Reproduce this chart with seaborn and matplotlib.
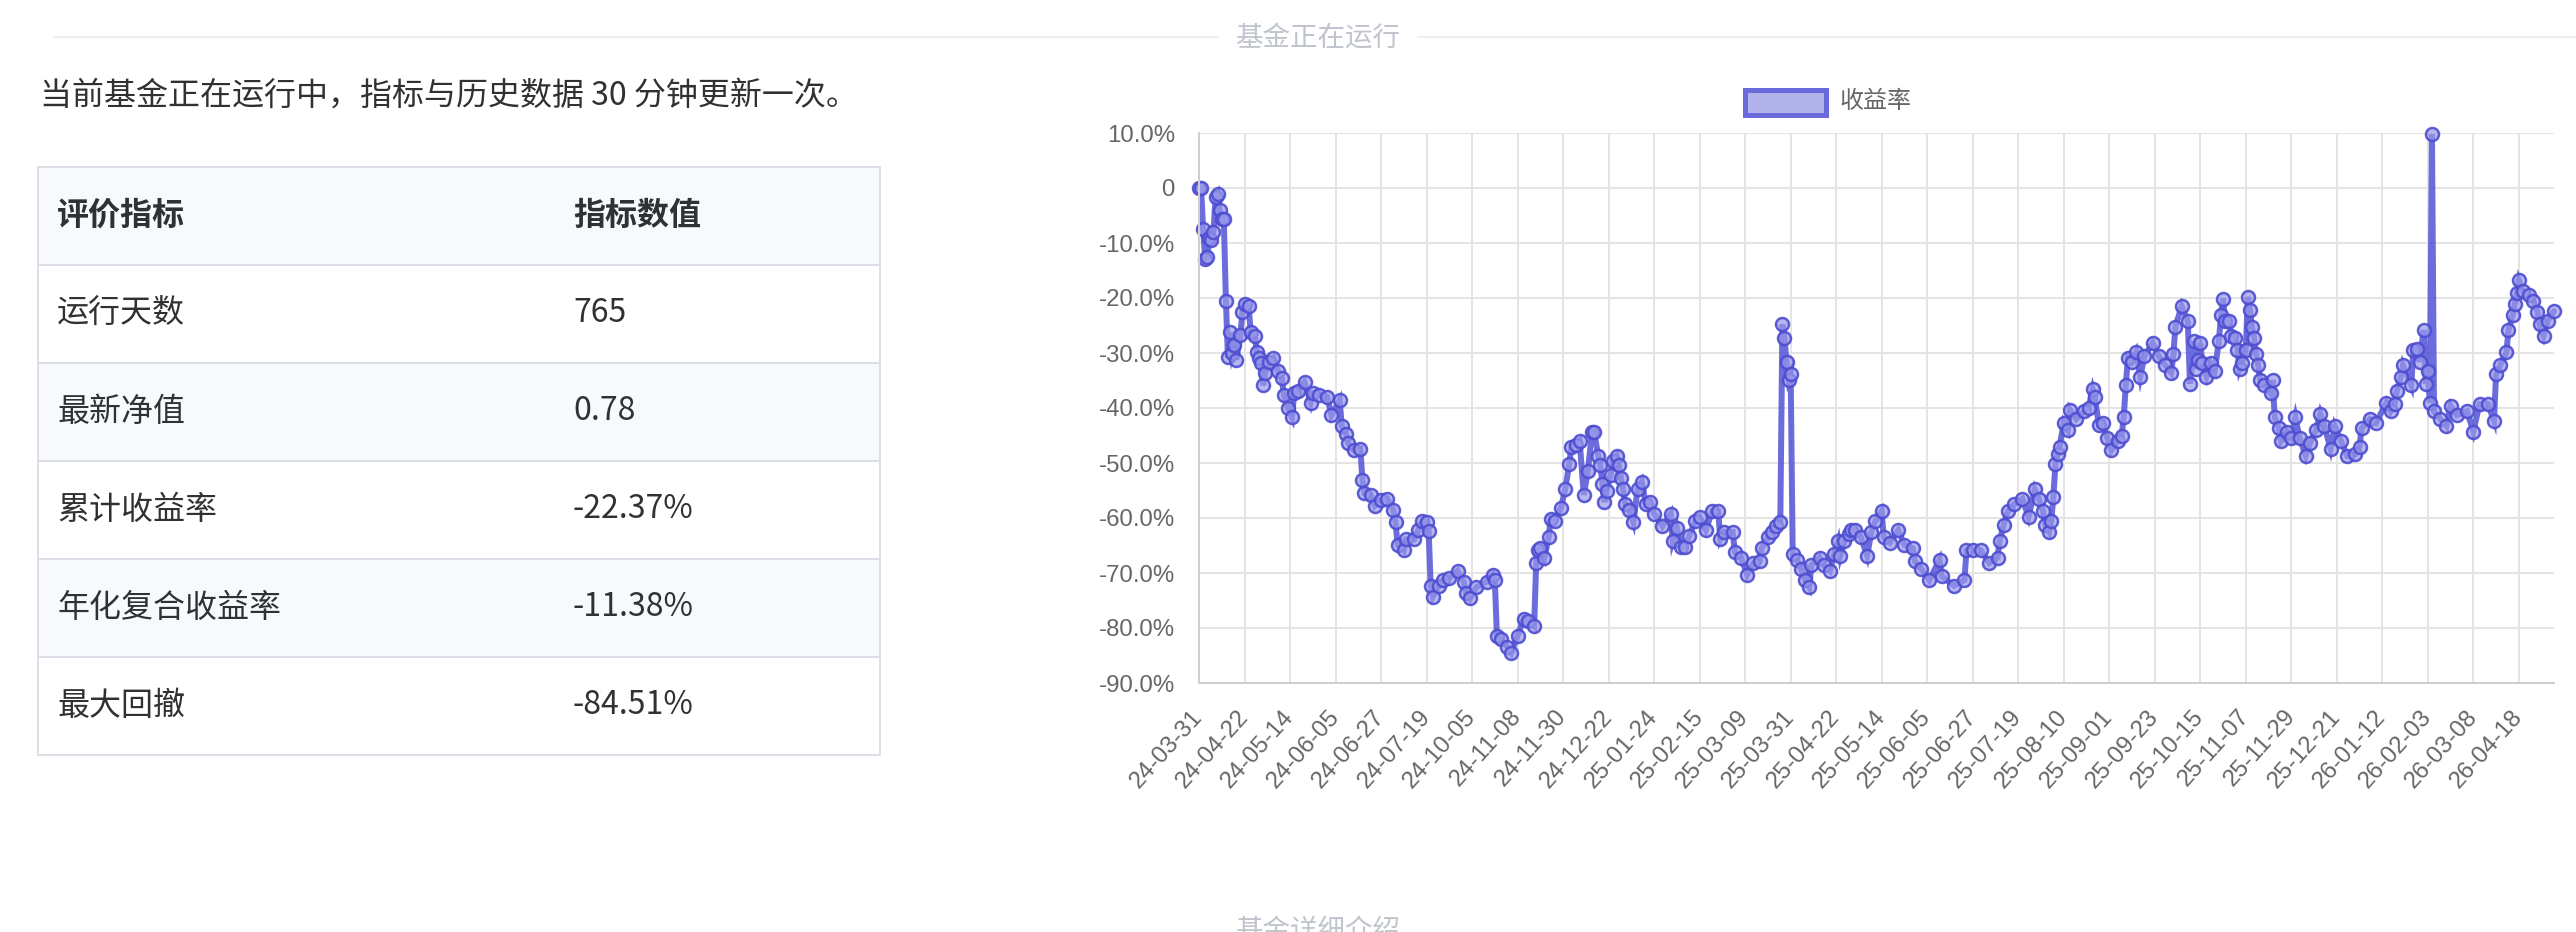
import pandas as pd
import seaborn as sns
import matplotlib.pyplot as plt
from matplotlib.patches import Rectangle

tick_dates = [
    "24-03-31", "24-04-22", "24-05-14", "24-06-05", "24-06-27", "24-07-19",
    "24-10-05", "24-11-08", "24-11-30", "24-12-22", "25-01-24", "25-02-15",
    "25-03-09", "25-03-31", "25-04-22", "25-05-14", "25-06-05", "25-06-27",
    "25-07-19", "25-08-10", "25-09-01", "25-09-23", "25-10-15", "25-11-07",
    "25-11-29", "25-12-21", "26-01-12", "26-02-03", "26-03-08", "26-04-18",
]
label_step = 22  # une étiquette tous les 22 points

point_idx = [
    0, 1, 2, 3, 4, 5, 6, 7, 8, 9, 10, 11, 12, 13, 14, 15, 16, 17, 18, 20,
    21, 22, 24, 25, 27, 28, 29, 30, 31, 32, 34, 36, 38, 40, 41, 43, 45, 46, 48, 51,
    54, 55, 58, 62, 64, 68, 69, 71, 72, 75, 78, 79, 80, 83, 85, 88, 91, 94, 95, 96,
    99, 100, 104, 106, 108, 110, 111, 112, 113, 116, 118, 121, 125, 128, 129, 131, 134, 139, 142, 143,
    144, 146, 149, 151, 154, 157, 159, 162, 163, 164, 165, 167, 169, 170, 172, 175, 177, 179, 180, 182,
    184, 186, 188, 190, 191, 193, 194, 195, 196, 197, 199, 200, 202, 203, 204, 205, 206, 208, 210, 212,
    214, 216, 218, 220, 224, 228, 229, 231, 233, 235, 237, 240, 242, 245, 248, 251, 252, 254, 258, 259,
    262, 265, 268, 271, 272, 275, 277, 279, 281, 282, 283, 284, 285, 286, 287, 289, 291, 293, 295, 296,
    300, 302, 305, 307, 309, 310, 312, 314, 315, 317, 320, 323, 325, 327, 330, 331, 334, 338, 341, 345,
    346, 349, 353, 358, 359, 365, 370, 371, 374, 378, 382, 386, 387, 389, 391, 394, 398, 401, 404, 406,
    408, 409, 411, 412, 413, 414, 415, 416, 418, 420, 421, 424, 428, 430, 432, 433, 435, 437, 439, 441,
    444, 446, 447, 448, 449, 451, 453, 455, 457, 461, 464, 467, 470, 471, 472, 475, 478, 479, 481, 482,
    483, 484, 485, 487, 489, 491, 493, 494, 495, 496, 498, 499, 501, 502, 503, 504, 506, 507, 508, 509,
    510, 511, 512, 513, 515, 518, 519, 520, 522, 523, 526, 528, 530, 532, 535, 537, 540, 542, 544, 547,
    549, 552, 555, 559, 561, 562, 566, 569, 574, 576, 578, 579, 581, 582, 586, 587, 589, 590, 592, 593,
    594, 595, 596, 597, 600, 603, 605, 608, 613, 616, 619, 623, 626, 627, 629, 632, 633, 635, 636, 637,
    638, 640, 643, 645, 647, 648, 650, 652, 655,
]
rendement = [
    0.0, 0.0, -7.5, -12.9, -12.5, -9.0, -9.4, -8.0, -1.6, -1.0, -4.0, -5.7, -5.7, -20.5, -30.8, -26.2, -30.0, -28.5, -31.2, -26.8,
    -22.5, -21.1, -21.5, -26.2, -26.9, -29.9, -30.9, -31.8, -35.9, -33.6, -31.6, -30.9, -33.2, -34.6, -37.6, -40.0, -41.7, -37.3, -36.9, -35.3,
    -39.0, -37.3, -37.6, -38.0, -41.3, -38.6, -43.3, -44.7, -46.4, -47.7, -47.4, -53.1, -55.5, -55.8, -57.8, -56.8, -56.5, -58.5, -60.8, -64.9,
    -65.9, -63.9, -63.9, -62.2, -60.5, -60.8, -62.3, -72.3, -74.3, -72.3, -71.3, -70.9, -69.6, -71.6, -73.6, -74.6, -72.6, -71.6, -70.3, -71.3,
    -81.4, -82.0, -83.4, -84.5, -81.4, -78.3, -78.7, -79.7, -68.2, -65.9, -65.5, -67.2, -63.5, -60.2, -60.5, -58.1, -54.8, -50.1, -47.0, -46.7,
    -46.0, -55.8, -51.4, -44.3, -44.3, -48.7, -50.4, -53.8, -57.1, -55.1, -52.1, -49.7, -48.7, -50.4, -52.8, -54.8, -57.5, -58.5, -60.8, -54.8,
    -53.4, -57.5, -57.1, -59.2, -61.5, -59.2, -64.2, -61.8, -65.2, -65.2, -63.2, -60.5, -59.8, -62.2, -58.8, -58.8, -63.9, -62.5, -62.5, -66.2,
    -67.2, -70.3, -68.2, -67.9, -65.5, -63.5, -62.5, -61.5, -60.8, -24.8, -27.2, -31.6, -34.9, -33.9, -66.6, -67.6, -69.2, -71.3, -72.6, -68.6,
    -67.2, -68.6, -69.6, -66.6, -64.2, -66.9, -64.2, -62.9, -62.2, -62.2, -63.5, -66.9, -62.5, -60.5, -58.8, -63.5, -64.5, -62.2, -64.9, -65.5,
    -67.9, -69.2, -71.3, -67.6, -70.6, -72.3, -71.3, -65.9, -65.9, -65.9, -68.2, -67.2, -64.2, -61.2, -58.8, -57.5, -56.5, -59.8, -54.8, -56.5,
    -58.8, -61.2, -62.5, -60.5, -56.1, -50.1, -48.4, -47.0, -42.7, -44.0, -40.3, -42.0, -40.6, -40.0, -36.6, -38.0, -43.0, -42.7, -45.4, -47.7,
    -46.0, -45.0, -41.7, -35.9, -30.9, -31.6, -29.9, -34.3, -30.6, -28.2, -30.6, -32.2, -33.6, -30.2, -25.2, -21.5, -24.2, -35.6, -27.9, -32.9,
    -31.2, -28.2, -31.9, -34.3, -31.9, -33.2, -27.9, -23.1, -20.1, -24.2, -24.2, -26.9, -27.2, -29.5, -32.9, -31.9, -29.5, -19.8, -22.1, -25.2,
    -27.2, -30.2, -32.2, -34.9, -35.9, -37.3, -34.9, -41.7, -43.7, -46.0, -44.3, -45.4, -41.7, -45.4, -48.7, -46.4, -44.0, -41.0, -43.3, -47.4,
    -43.3, -46.0, -48.7, -48.4, -47.0, -43.7, -42.0, -42.7, -39.0, -40.6, -39.3, -36.9, -34.3, -32.2, -35.9, -29.5, -29.2, -31.6, -25.8, -35.6,
    -33.2, -39.0, 9.8, -40.6, -42.0, -43.3, -39.6, -41.3, -40.6, -44.3, -39.3, -39.3, -42.3, -33.9, -32.2, -29.9, -25.8, -23.1, -21.1, -19.1,
    -16.8, -18.8, -19.4, -20.5, -22.5, -24.8, -26.9, -24.2, -22.4,
]

metric_names = ["运行天数", "最新净值", "累计收益率", "年化复合收益率", "最大回撤"]
metric_values = ["765", "0.78", "-22.37%", "-11.38%", "-84.51%"]

# === 2. Figure et calque de fond en pixels ===
W, H = 2576, 932
sns.set_style("white")
plt.rcParams["font.family"] = ["Liberation Sans", "Noto Sans CJK SC"]
cjk = ["Noto Sans CJK SC", "DejaVu Sans"]
px = 0.72  # pixels -> points à 100 dpi

fig = plt.figure(figsize=(W / 100, H / 100), dpi=100)
bg = fig.add_axes([0, 0, 1, 1])
bg.set_xlim(0, W)
bg.set_ylim(H, 0)
bg.axis("off")

# séparateurs "基金正在运行" / "基金详细介绍"
sep_col = "#c0c4cc"
bg.plot([54, 1218], [37, 37], color="#eeeeee", lw=2 * px)
bg.plot([1418, W], [37, 37], color="#eeeeee", lw=2 * px)
bg.text(1318, 38, "基金正在运行", family=cjk, fontsize=27.5 * px, color=sep_col,
        ha="center", va="center")
bg.text(1318, 918, "基金详细介绍", family=cjk, fontsize=27.5 * px, color=sep_col,
        ha="center", va="top")

# phrase d'introduction
txt_col = "#303133"
bg.text(40, 96, "当前基金正在运行中，指标与历史数据 30 分钟更新一次。", family=cjk,
        fontsize=32 * px, color=txt_col, ha="left", va="center")

# === 3. Tableau des indicateurs ===
t_left, t_right, t_top, row_h = 38, 880, 166.5, 98
rows = [("评价指标", "指标数值")] + list(zip(metric_names, metric_values))
for i, (name, val) in enumerate(rows):
    y0 = t_top + i * row_h
    shade = (i % 2 == 0)
    bg.add_patch(Rectangle((t_left, y0), t_right - t_left, row_h,
                           facecolor="#f8f9fb" if shade else "white",
                           edgecolor="#dcdfe6", lw=2 * px))
    weight = "bold" if i == 0 else "normal"
    bg.text(57, y0 + row_h / 2, name, family=cjk, fontsize=32 * px, color=txt_col,
            fontweight=weight, ha="left", va="center")
    bg.text(573, y0 + row_h / 2, val, family=cjk, fontsize=32 * px, color=txt_col,
            fontweight=weight, ha="left", va="center")

# === 4. Courbe du rendement ===
df = pd.DataFrame({"idx": point_idx, "ret": rendement})
ax = fig.add_axes([1199 / W, 1 - 683 / H, 1355 / W, 550 / H])
sns.lineplot(data=df, x="idx", y="ret", ax=ax,
             color=(0.32, 0.32, 0.84, 0.85), linewidth=6 * px,
             marker="o", markersize=13 * px,
             markerfacecolor=(0.60, 0.60, 0.92, 0.7),
             markeredgecolor=(0.30, 0.30, 0.82, 0.9), markeredgewidth=2.5 * px,
             solid_joinstyle="miter", clip_on=False)

ax.set_xlim(0, point_idx[-1])
ax.set_ylim(-90, 10)
yt = list(range(-90, 11, 10))
ax.set_yticks(yt)
ax.set_yticklabels(["0" if v == 0 else f"{v:.1f}%" for v in yt])
ax.set_xticks([i * label_step for i in range(len(tick_dates))])
ax.set_xticklabels(tick_dates, rotation=48, ha="right", va="center",
                   rotation_mode="anchor")
ax.set_xlabel("")
ax.set_ylabel("")

grid_col = "#e4e4e4"
ax.grid(True, color=grid_col, lw=2 * px)
ax.set_axisbelow(True)
for s in ["top", "right"]:
    ax.spines[s].set_visible(False)
for s in ["left", "bottom"]:
    ax.spines[s].set_color("#cfcfcf")
    ax.spines[s].set_linewidth(2 * px)
ax.tick_params(axis="both", length=16 * px, width=2 * px, color=grid_col,
               labelcolor="#666666", labelsize=24 * px, pad=8 * px)
ax.tick_params(axis="x", pad=14 * px)

# légende dessinée à la main
bg.add_patch(Rectangle((1745.5, 89.5), 81, 25, facecolor="#b3b3ec",
                       edgecolor="#6a6ada", lw=5 * px))
bg.text(1839, 102, "收益率", family=cjk, fontsize=24 * px, color="#666666",
        ha="left", va="center")

fig.savefig("out.png", dpi=100, facecolor="white")
